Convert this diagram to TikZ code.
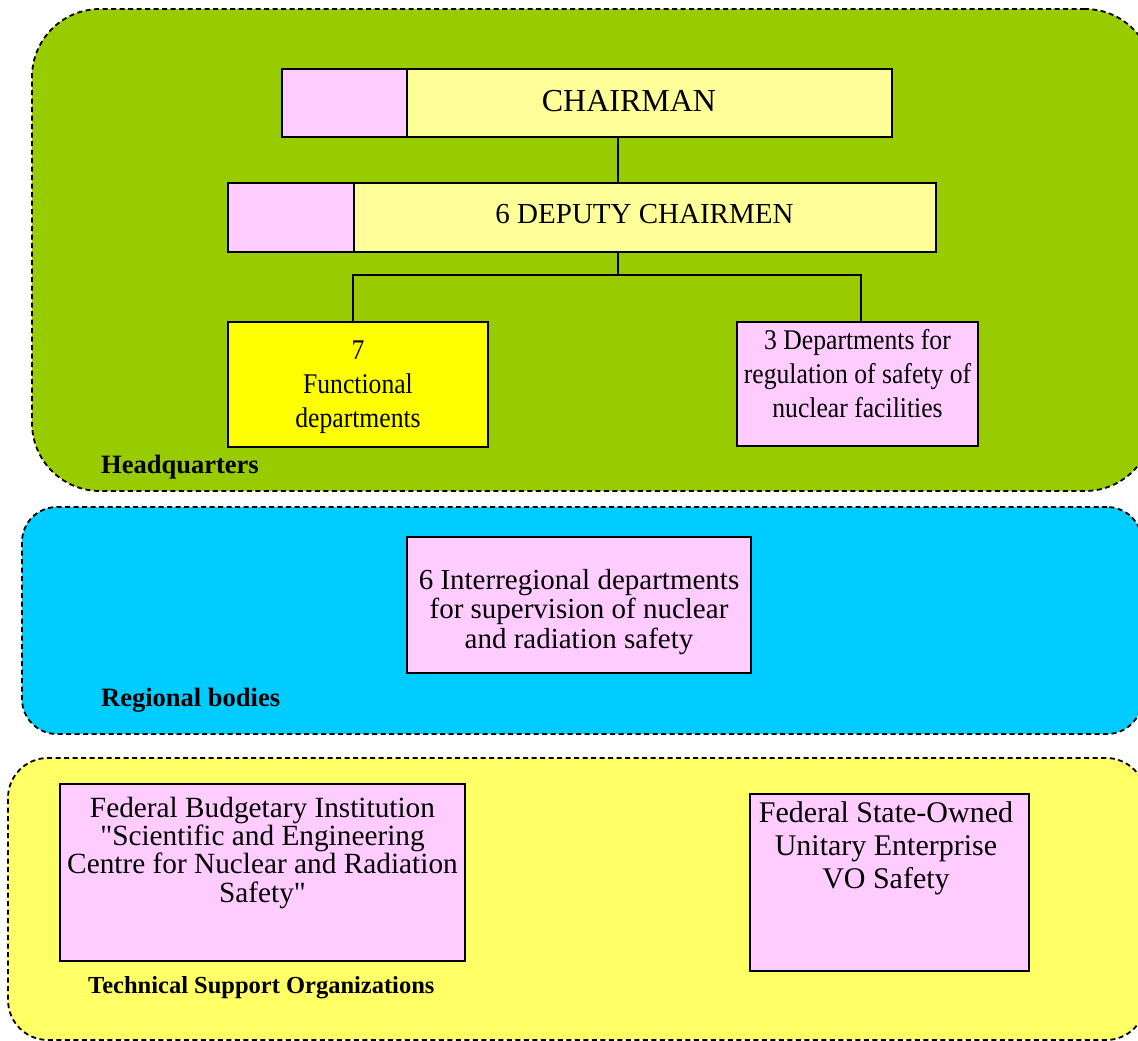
\documentclass[tikz,border=0pt]{standalone}
\usepackage{fontspec}
\setmainfont{Liberation Serif}[Ligatures=TeXOff]
\newfontfamily\condserif{Liberation Serif}[FakeStretch=0.9,Ligatures=TeXOff]
\usetikzlibrary{fit}
\definecolor{hqgreen}{HTML}{99CC00}
\definecolor{regblue}{HTML}{00CCFF}
\definecolor{tsoyellow}{HTML}{FFFF66}
\definecolor{boxpink}{HTML}{FFCCFF}
\definecolor{boxcream}{HTML}{FFFF99}
\definecolor{boxyellow}{HTML}{FFFF00}
\tikzset{
  region/.style={draw=black, line width=1.8pt, dash pattern=on 5pt off 3.5pt, inner sep=0pt},
  unit/.style={draw=black, line width=1.8pt, inner sep=0pt},
  link/.style={draw=black, line width=1.8pt},
  caption/.style={anchor=base west, inner sep=0pt},
  % multi-line texts are placed by the baseline of their last line
  txt/.style={align=center, anchor=base, inner sep=0pt},
}
\begin{document}
\begin{tikzpicture}[x=1pt,y=-1pt]
\useasboundingbox (0,0) rectangle (1138,1041);
\clip (0,0) rectangle (1138,1041);

% organisational areas
\node[region, fill=hqgreen, rounded corners=68pt, fit={(32,9) (1153,491)}] (hq) {};
\node[region, fill=regblue, rounded corners=35pt, fit={(22,507) (1142,734)}] (regional) {};
\node[region, fill=tsoyellow, rounded corners=40pt, fit={(8,758) (1146,1040)}] (tso) {};

% headquarters boxes
\node[unit, fill=boxpink, fit={(282,69) (407,137)}] (chairtag) {};
\node[unit, fill=boxcream, fit={(407,69) (892,137)}] (chair) {};
\node[unit, fill=boxpink, fit={(228,183) (354,252)}] (deputytag) {};
\node[unit, fill=boxcream, fit={(354,183) (936,252)}] (deputy) {};
\node[unit, fill=boxyellow, fit={(228,322) (488,447)}] (func) {};
\node[unit, fill=boxpink, fit={(737,322) (978,446)}] (safety) {};

% regional and support boxes
\node[unit, fill=boxpink, fit={(407,537) (751,673)}] (inter) {};
\node[unit, fill=boxpink, fit={(60,784) (465,961)}] (secnrs) {};
\node[unit, fill=boxpink, fit={(750,794) (1029,971)}] (vo) {};

% reporting lines
\coordinate (trunk) at (618,275);
\draw[link] (chair.south -| trunk) -- (deputy.north -| trunk);
\draw[link] (deputy.south -| trunk) -- (trunk);
\draw[link] ([xshift=-5pt]func.north) |- (trunk);
\draw[link] ([xshift=3.5pt]safety.north) |- (trunk);

% box texts
\node[txt, font=\fontsize{32}{36}\selectfont] (chairtext) at (629,111) {CHAIRMAN};
\node[txt, font=\fontsize{29}{33}\selectfont] (deputytext) at (644.5,223) {6 DEPUTY CHAIRMEN};
\node[txt, font=\condserif\fontsize{28.5}{34}\selectfont] (functext) at (358,427)
  {7\\Functional\\departments};
\node[txt, font=\condserif\fontsize{28.5}{34}\selectfont] (safetytext) at (857.5,417)
  {3 Departments for\\regulation of safety of\\nuclear facilities};
\node[txt, font=\fontsize{29}{29.5}\selectfont] (intertext) at (579,648)
  {6 Interregional departments\\for supervision of nuclear\\and radiation safety};
\node[txt, font=\fontsize{29.3}{28.3}\selectfont] (secnrstext) at (262.5,902)
  {Federal Budgetary Institution\\"Scientific and Engineering\\Centre for Nuclear and Radiation\\Safety"};
\node[txt, font=\fontsize{30}{33}\selectfont] (votext) at (886,888)
  {Federal State-Owned\\Unitary Enterprise\\VO Safety};

% area captions
\node[caption, font=\bfseries\fontsize{26.5}{30}\selectfont] (hqcap) at (101,473) {Headquarters};
\node[caption, font=\bfseries\fontsize{26.5}{30}\selectfont] (regcap) at (101,706) {Regional bodies};
\node[caption, font=\bfseries\fontsize{24.5}{28}\selectfont] (tsocap) at (88,993) {Technical Support Organizations};
\end{tikzpicture}
\end{document}
